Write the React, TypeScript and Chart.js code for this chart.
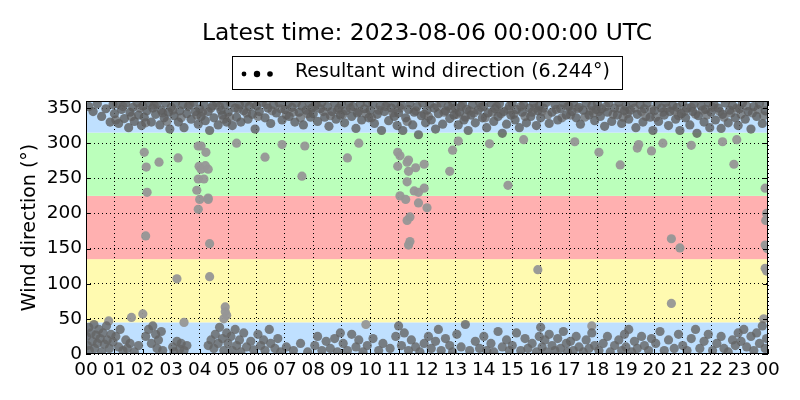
import React, { useEffect, useRef } from "react";
import { Chart, registerables } from "chart.js";

Chart.register(...registerables);

const titleText = "Latest time: 2023-08-06 00:00:00 UTC";
const legendText = "Resultant wind direction (6.244°)";
const yAxisTitle = "Wind direction (°)";

const hourLabels = ["00","01","02","03","04","05","06","07","08","09","10","11","12","13","14","15","16","17","18","19","20","21","22","23","00"];
const dirTicks = [0, 50, 100, 150, 200, 250, 300, 350];

const bandStarts = [0, 45, 135, 225, 315];
const bandEnds = [45, 135, 225, 315, 360];
const bandColors = ["#bfe0ff", "#fffab0", "#ffb0b0", "#bbffbb", "#bfe0ff"];

// [hour, degrees] observations in the northerly band
const northObs: [number, number][] = [
  [0.1,352],[0.25,345],[0.4,356],[0.55,338],[0.7,349],[0.85,330],[0.95,355],
  [1.0,342],[1.1,356],[1.15,328],[1.25,348],[1.35,335],[1.4,357],[1.5,322],[1.55,344],[1.65,351],[1.7,331],[1.8,358],[1.85,340],[1.95,325],
  [2.0,353],[2.05,337],[2.15,346],[2.2,358],[2.3,330],[2.35,350],[2.45,341],[2.5,356],[2.6,326],[2.65,347],[2.75,336],[2.8,357],[2.9,344],[2.95,320],
  [3.0,351],[3.1,339],[3.15,357],[3.25,330],[3.3,346],[3.4,355],[3.45,322],[3.55,342],[3.6,352],[3.7,334],[3.8,358],[3.85,345],[3.95,327],
  [4.0,349],[4.05,338],[4.15,356],[4.2,332],[4.3,345],[4.35,318],[4.45,353],[4.5,336],[4.6,358],[4.65,326],[4.75,347],[4.8,340],[4.9,355],[4.95,330],
  [5.0,344],[5.1,357],[5.15,325],[5.25,350],[5.3,337],[5.4,355],[5.45,330],[5.55,346],[5.6,358],[5.7,334],[5.75,352],[5.85,341],[5.95,320],
  [6.0,353],[6.1,345],[6.2,358],[6.3,336],[6.4,350],[6.5,328],[6.6,355],[6.7,343],[6.8,357],[6.9,333],
  [7.0,348],[7.1,356],[7.15,338],[7.25,351],[7.35,330],[7.4,357],[7.5,344],[7.6,353],[7.65,326],[7.75,347],[7.85,358],[7.9,337],[7.95,350],
  [8.0,342],[8.1,356],[8.15,331],[8.25,349],[8.3,358],[8.4,337],[8.5,352],[8.55,324],[8.65,345],[8.75,357],[8.8,334],[8.9,350],[8.95,340],
  [9.0,355],[9.1,329],[9.15,346],[9.25,358],[9.35,338],[9.4,352],[9.5,321],[9.55,343],[9.65,356],[9.7,333],[9.8,349],[9.9,358],[9.95,336],
  [10.0,347],[10.1,356],[10.15,328],[10.25,341],[10.35,353],[10.4,318],[10.5,345],[10.6,357],[10.65,332],[10.75,350],[10.85,338],[10.9,356],[10.95,325],
  [11.0,343],[11.1,354],[11.15,318],[11.25,336],[11.35,348],[11.4,357],[11.5,326],[11.55,344],[11.65,352],[11.7,312],[11.8,339],[11.85,357],[11.95,329],
  [12.0,347],[12.1,356],[12.15,333],[12.25,350],[12.3,320],[12.4,342],[12.5,357],[12.55,327],[12.65,346],[12.75,353],[12.8,335],[12.9,358],[12.95,340],
  [13.0,350],[13.1,326],[13.15,344],[13.25,356],[13.3,333],[13.4,348],[13.45,318],[13.55,340],[13.6,355],[13.7,329],[13.8,347],[13.85,358],[13.95,336],
  [14.0,352],[14.1,322],[14.15,343],[14.25,357],[14.35,331],[14.4,349],[14.5,338],[14.55,356],[14.65,314],[14.7,345],[14.8,327],[14.9,353],[14.95,340],
  [15.0,357],[15.1,333],[15.15,348],[15.25,322],[15.35,344],[15.4,355],[15.5,329],[15.6,350],[15.65,338],[15.75,357],[15.85,325],[15.9,346],[15.95,353],
  [16.0,336],[16.1,350],[16.2,358],[16.3,328],[16.4,344],[16.5,355],[16.6,333],[16.7,349],[16.8,357],[16.9,340],
  [17.0,352],[17.1,345],[17.15,358],[17.25,336],[17.35,351],[17.4,327],[17.5,347],[17.6,357],[17.7,340],[17.8,353],[17.9,332],[17.95,348],
  [18.0,356],[18.1,338],[18.15,349],[18.25,324],[18.35,344],[18.4,357],[18.5,331],[18.6,350],[18.7,340],[18.75,358],[18.85,328],[18.95,346],
  [19.0,353],[19.1,334],[19.15,347],[19.25,358],[19.35,322],[19.4,341],[19.5,355],[19.6,330],[19.65,349],[19.75,357],[19.85,337],[19.95,318],
  [20.0,346],[20.1,356],[20.15,331],[20.25,350],[20.35,340],[20.4,358],[20.5,325],[20.55,345],[20.65,354],[20.75,334],[20.8,351],[20.9,318],[20.95,342],
  [21.0,357],[21.1,336],[21.15,350],[21.25,326],[21.35,345],[21.4,356],[21.5,314],[21.55,339],[21.65,353],[21.75,330],[21.8,348],[21.9,358],[21.95,322],
  [22.0,344],[22.1,355],[22.15,333],[22.25,350],[22.35,321],[22.4,341],[22.5,357],[22.6,329],[22.65,347],[22.75,354],[22.85,336],[22.95,325],
  [23.0,349],[23.1,357],[23.2,334],[23.3,345],[23.4,320],[23.5,352],[23.6,338],[23.7,356],[23.8,328],[23.9,346],
];

const northExtraObs: [number, number][] = [
  [1.05,333],[1.3,352],[1.6,338],[1.9,350],[2.1,329],[2.4,354],[2.7,343],[2.85,331],[3.05,347],[3.35,336],[3.65,355],[3.9,340],
  [4.1,344],[4.4,350],[4.7,352],[4.85,334],[5.05,337],[5.35,349],[5.65,343],[5.9,356],[6.05,338],[6.35,355],[6.55,346],[6.85,349],
  [7.05,340],[7.3,344],[7.55,336],[7.8,342],[8.05,353],[8.35,345],[8.6,339],[8.85,347],[9.05,341],[9.3,350],[9.6,345],[9.85,342],
  [10.05,336],[10.3,347],[10.55,352],[10.8,343],[11.05,350],[11.3,331],[11.6,346],[11.9,341],[12.05,338],[12.35,352],[12.6,344],[12.85,349],
  [13.05,341],[13.2,352],[13.35,337],[13.5,346],[13.65,343],[13.9,351],[14.05,336],[14.3,344],[14.45,352],[14.6,342],[14.85,348],
  [15.05,341],[15.3,352],[15.45,338],[15.7,344],[15.8,350],[16.05,345],[16.25,340],[16.55,348],[16.75,336],[16.95,352],
  [17.05,340],[17.3,349],[17.55,337],[17.75,346],[17.85,343],[18.05,345],[18.3,352],[18.55,341],[18.8,349],[18.9,337],
  [19.05,342],[19.3,350],[19.55,345],[19.7,338],[19.9,348],[20.05,337],[20.3,344],[20.45,350],[20.7,346],[20.85,339],
  [21.05,345],[21.3,351],[21.45,341],[21.7,347],[21.85,340],[22.05,351],[22.3,345],[22.45,337],[22.7,343],[22.9,350],
  [23.05,341],[23.25,353],[23.45,343],[23.65,348],[23.85,339],[23.95,355],
];

// [hour, degrees] observations in the low band
const southObs: [number, number][] = [
  [0.02,25],[0.05,12],[0.1,38],[0.12,5],[0.18,30],[0.22,18],[0.28,42],[0.3,8],[0.35,27],[0.4,15],[0.45,35],[0.5,22],[0.55,3],[0.6,30],[0.65,14],[0.72,40],[0.75,20],[0.82,8],[0.88,28],[0.95,17],
  [1.05,25],[1.15,10],[1.2,35],[1.3,5],[1.4,20],[1.45,8],[1.55,15],[1.7,3],[1.85,12],
  [2.1,25],[2.2,35],[2.3,15],[2.35,40],[2.45,28],[2.5,8],[2.55,20],[2.65,32],[2.7,5],
  [3.05,10],[3.1,3],[3.2,18],[3.3,7],[3.35,15],[3.45,5],[3.55,12],
  [4.3,12],[4.4,20],[4.5,8],[4.55,28],[4.65,15],[4.7,38],[4.8,22],[4.85,5],[4.95,30],
  [5.0,15],[5.1,25],[5.15,5],[5.25,35],[5.3,12],[5.4,20],[5.45,3],[5.55,30],[5.65,10],[5.8,18],[5.9,6],
  [6.05,28],[6.15,12],[6.25,20],[6.3,5],[6.45,35],[6.5,15],[6.65,8],[6.75,22],[6.85,3],
  [7.05,10],[7.3,5],[7.55,15],[7.8,3],
  [8.05,12],[8.15,25],[8.3,5],[8.45,18],[8.6,8],[8.75,22],[8.85,3],[8.95,30],
  [9.05,15],[9.2,5],[9.35,28],[9.5,10],[9.6,20],[9.75,3],[9.9,12],
  [10.1,22],[10.3,5],[10.45,15],[10.7,8],[10.9,25],
  [11.0,40],[11.1,12],[11.2,30],[11.35,5],[11.45,20],[11.6,10],[11.75,3],[11.9,15],
  [12.05,25],[12.15,8],[12.3,18],[12.4,35],[12.5,5],[12.65,22],[12.8,12],[12.9,3],
  [13.05,28],[13.2,10],[13.35,42],[13.5,5],[13.7,18],[13.85,8],
  [14.0,25],[14.1,5],[14.25,15],[14.35,3],[14.5,32],[14.65,10],[14.8,20],[14.9,5],
  [15.0,12],[15.15,30],[15.3,5],[15.45,22],[15.55,8],[15.7,15],[15.85,3],[15.95,25],
  [16.0,38],[16.05,10],[16.15,20],[16.2,3],[16.3,28],[16.4,12],[16.5,5],[16.6,22],[16.7,8],[16.8,32],[16.9,15],[16.95,3],
  [17.05,18],[17.15,5],[17.25,25],[17.35,10],[17.5,3],[17.6,20],[17.7,8],[17.8,30],[17.9,12],
  [18.05,5],[18.2,15],[18.35,25],[18.45,3],[18.6,12],[18.75,20],[18.85,5],[18.95,28],
  [19.0,10],[19.1,35],[19.2,3],[19.3,18],[19.4,8],[19.55,25],[19.65,12],[19.8,5],[19.9,22],
  [20.05,15],[20.2,32],[20.35,5],[20.5,20],[20.7,8],[20.85,28],
  [21.0,12],[21.15,5],[21.3,22],[21.45,35],[21.6,8],[21.75,18],[21.9,28],
  [22.05,5],[22.2,15],[22.35,25],[22.45,8],[22.6,3],[22.75,20],[22.85,12],[22.95,30],
  [23.05,18],[23.15,35],[23.25,10],[23.4,25],[23.5,5],[23.6,30],[23.7,15],[23.8,40],[23.9,8],[23.95,22],
];

// isolated observations outside the two main clusters
const outlierObs: [number, number][] = [
  [0.8,47],[1.6,52],[2.0,57],[2.05,287],[2.1,168],[2.12,266],[2.15,230],[2.57,273],[3.24,279],[3.2,107],[3.45,45],
  [3.95,296],[4.05,296],[4.22,287],[3.98,267],[4.2,268],[4.05,263],[4.3,263],[3.95,249],[4.15,249],[3.9,233],
  [4.0,220],[4.3,220],[3.95,206],[4.3,222],[4.35,157],[4.35,110],[4.9,67],[4.9,60],[4.95,55],[4.85,50],
  [5.3,300],[6.3,280],[6.9,298],[7.6,253],[7.7,296],[9.2,279],[9.6,300],[9.85,42],
  [10.97,287],[11.05,282],[10.97,267],[11.05,225],[11.3,273],[11.35,276],[11.35,260],[11.6,265],[11.9,270],
  [11.3,245],[11.55,232],[11.7,230],[11.9,236],[11.25,220],[11.7,215],[12.0,208],[11.4,195],[11.3,190],[11.4,160],[11.35,155],
  [12.8,260],[12.9,290],[13.1,303],[14.2,299],[14.85,240],[15.4,305],[15.9,120],[17.2,302],[17.8,40],
  [18.05,287],[18.8,269],[19.4,293],[19.45,298],[19.9,289],[20.3,300],[20.6,164],[20.9,151],[20.6,72],
  [21.3,297],[22.4,302],[22.8,270],[22.9,305],[23.9,236],[23.95,200],[23.92,190],[23.9,155],[23.97,150],[23.9,122],[23.95,118],[23.85,50],
];

const FONT = "'DejaVu Sans', sans-serif";

const toXY = (arr: [number, number][]) => arr.map(([h, d]) => ({ x: h, y: d }));

const decorPlugin = {
  id: "decor",
  beforeDraw(chart: any) {
    const { ctx, chartArea: a, scales } = chart;
    const y = scales.y;
    ctx.save();
    ctx.fillStyle = "#ffffff";
    ctx.fillRect(0, 0, chart.width, chart.height);
    for (let i = 0; i < bandStarts.length; i++) {
      const top = y.getPixelForValue(bandEnds[i]);
      const bot = y.getPixelForValue(bandStarts[i]);
      ctx.fillStyle = bandColors[i];
      ctx.fillRect(a.left, top, a.right - a.left, bot - top);
    }
    ctx.restore();
  },
  afterDraw(chart: any) {
    const { ctx, chartArea: a, scales } = chart;
    const x = scales.x;
    const y = scales.y;
    ctx.save();
    ctx.strokeStyle = "#000";
    ctx.lineWidth = 1;
    ctx.strokeRect(a.left + 0.5, a.top + 0.5, a.right - a.left - 1, a.bottom - a.top - 1);
    ctx.beginPath();
    for (let h = 0; h < hourLabels.length; h++) {
      const px = Math.round(x.getPixelForValue(h)) + 0.5;
      ctx.moveTo(px, a.bottom);
      ctx.lineTo(px, a.bottom - 5);
      ctx.moveTo(px, a.top);
      ctx.lineTo(px, a.top + 5);
    }
    for (const v of dirTicks) {
      const py = Math.round(y.getPixelForValue(v)) + 0.5;
      ctx.moveTo(a.left, py);
      ctx.lineTo(a.left + 5, py);
      ctx.moveTo(a.right, py);
      ctx.lineTo(a.right - 5, py);
    }
    ctx.stroke();

    const cx = (a.left + a.right) / 2;
    ctx.fillStyle = "#000";
    ctx.textAlign = "center";
    ctx.textBaseline = "middle";
    ctx.font = `23.4px ${FONT}`;
    ctx.fillText(titleText, cx, 34);

    ctx.fillStyle = "#fff";
    ctx.fillRect(232, 56, 391, 34);
    ctx.strokeStyle = "#000";
    ctx.strokeRect(232.5, 56.5, 390, 33);
    ctx.fillStyle = "#000";
    const dots: [number, number][] = [[244, 2.4], [257, 3.2], [270, 2.8]];
    for (const [dx, r] of dots) {
      ctx.beginPath();
      ctx.arc(dx, 74, r, 0, Math.PI * 2);
      ctx.fill();
    }
    ctx.font = `19px ${FONT}`;
    ctx.textAlign = "left";
    ctx.fillText(legendText, 295, 72);

    ctx.save();
    ctx.translate(30, (a.top + a.bottom) / 2);
    ctx.rotate(-Math.PI / 2);
    ctx.textAlign = "center";
    ctx.textBaseline = "middle";
    ctx.font = `19px ${FONT}`;
    ctx.fillText(yAxisTitle, 0, 0);
    ctx.restore();

    ctx.restore();
  },
};

export default function App() {
  const ref = useRef<HTMLCanvasElement | null>(null);

  useEffect(() => {
    document.body.style.margin = "0";
    const canvas = ref.current;
    if (!canvas) return;
    const pointStyle = (color: string) => ({
      backgroundColor: color,
      borderColor: color,
      borderWidth: 0,
      pointRadius: 4.6,
      pointHoverRadius: 4.6,
      clip: 0,
    });
    const chart = new Chart(canvas, {
      type: "scatter",
      data: {
        datasets: [
          { label: "north", data: toXY(northObs), ...pointStyle("rgba(92,92,92,0.8)") },
          { label: "north2", data: toXY(northExtraObs), ...pointStyle("rgba(115,115,115,0.8)") },
          { label: "south", data: toXY(southObs), ...pointStyle("rgba(100,100,100,0.8)") },
          { label: "outliers", data: toXY(outlierObs), ...pointStyle("rgba(150,150,150,0.95)") },
        ],
      } as any,
      options: {
        animation: false,
        responsive: false,
        devicePixelRatio: 1,
        events: [],
        layout: { padding: { left: 0, top: 101, right: 32, bottom: 0 } },
        plugins: {
          legend: { display: false },
          title: { display: false },
          tooltip: { enabled: false },
        },
        scales: {
          x: {
            type: "linear",
            min: 0,
            max: 24,
            z: 1,
            afterFit: (s: any) => { s.height = 46; },
            afterBuildTicks: (s: any) => {
              s.ticks = hourLabels.map((_, i) => ({ value: i }));
            },
            grid: { color: "#000", lineWidth: 1, drawTicks: false, drawOnChartArea: true },
            border: { display: false, dash: [1, 3] },
            ticks: {
              autoSkip: false,
              maxRotation: 0,
              padding: 5,
              color: "#000",
              font: { family: FONT, size: 18.5 },
              callback: (v: any) => hourLabels[Math.round(Number(v))] ?? "",
            },
          },
          y: {
            type: "linear",
            min: 0,
            max: 360,
            z: 1,
            afterFit: (s: any) => { s.width = 86; },
            afterBuildTicks: (s: any) => {
              s.ticks = dirTicks.map((v) => ({ value: v }));
            },
            grid: { color: "#000", lineWidth: 1, drawTicks: false },
            border: { display: false, dash: [1, 3] },
            ticks: {
              padding: 4,
              color: "#000",
              font: { family: FONT, size: 18.5 },
              callback: (v: any) => String(v),
            },
          },
        },
      } as any,
      plugins: [decorPlugin],
    });
    return () => chart.destroy();
  }, []);

  return <canvas ref={ref} width={800} height={400} style={{ display: "block" }} />;
}
